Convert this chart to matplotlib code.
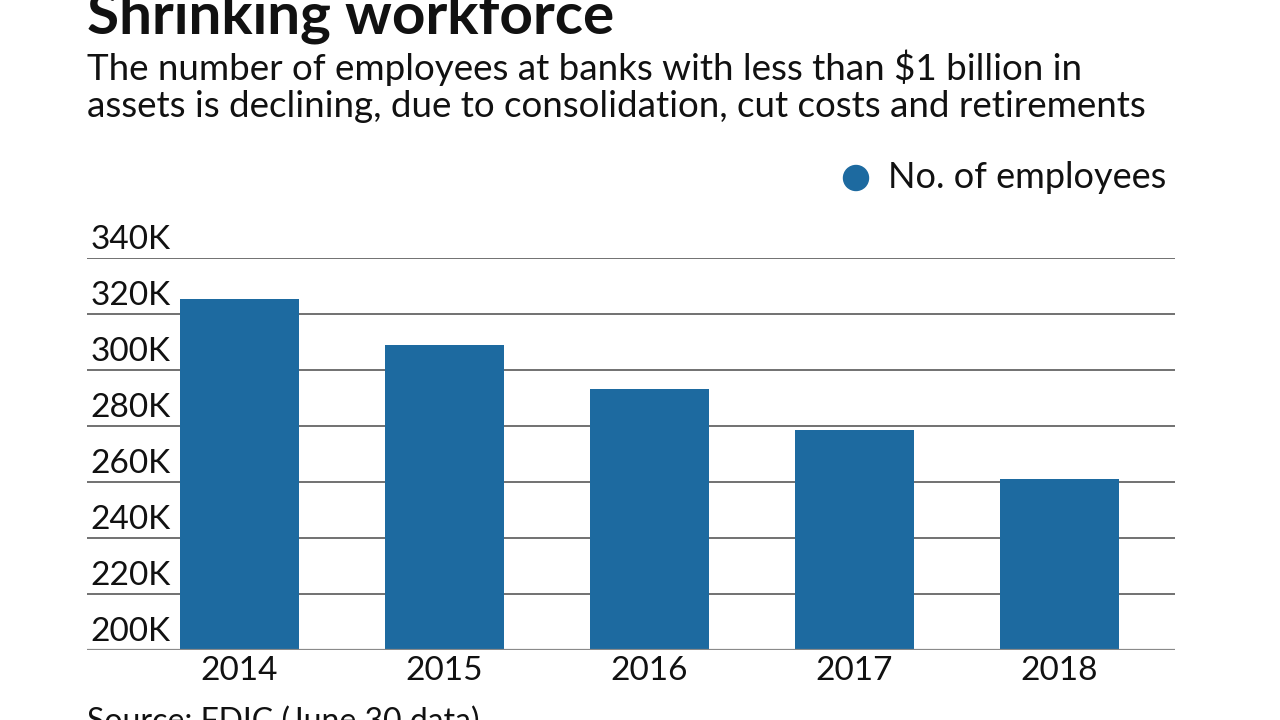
import matplotlib.pyplot as plt
import matplotlib.patches as mpatches
import matplotlib.transforms as mtransforms
import numpy as np

years     = ["2014", "2015", "2016", "2017", "2018"]
employees = [325400, 308900, 293200, 278600, 261100]
y_ticks   = [200000, 220000, 240000, 260000, 280000, 300000, 320000, 340000]
y_labels  = ["200K", "220K", "240K", "260K", "280K", "300K", "320K", "340K"]

BAR_COLOR  = "#1d6aa0"
GRID_COLOR = "#4a4a4a"
TEXT_COLOR = "#111111"
FONT       = ["Lato", "DejaVu Sans"]

plt.rcParams["font.family"] = FONT

fig = plt.figure(figsize=(12.8, 7.2), dpi=100)
ax = fig.add_axes([87 / 1280, 1 - 650 / 720, 1088 / 1280, 392 / 720])

x = np.arange(len(years))
ax.bar(x, employees, width=0.58, color=BAR_COLOR, zorder=2)

ax.set_ylim(y_ticks[0], y_ticks[-1])
ax.set_xlim(-0.744, len(years) - 1 + 0.563)

for v in y_ticks[1:]:
    ax.axhline(v, color=GRID_COLOR, lw=1.1, zorder=1)
ax.axhline(y_ticks[0], color="#8a8a8a", lw=1.6, zorder=3)

# value labels sit just above each gridline, left aligned
trans = mtransforms.blended_transform_factory(ax.transAxes, ax.transData)
for v, lab in zip(y_ticks, y_labels):
    ax.annotate(lab, xy=(0.003, v), xycoords=trans,
                xytext=(0, 6.5), textcoords="offset points",
                ha="left", va="baseline", fontsize=24, color=TEXT_COLOR)

ax.set_xticks(x)
ax.set_xticklabels(years, fontsize=24, color=TEXT_COLOR)
ax.tick_params(axis="x", length=0, pad=4)
ax.set_yticks([])
for s in ax.spines.values():
    s.set_visible(False)

# title / subtitle
fig.text(87 / 1280, 1 - 33 / 720, "Shrinking workforce", fontsize=42,
         fontweight="bold", ha="left", va="baseline", color=TEXT_COLOR)
fig.text(87 / 1280, 1 - 80 / 720,
         "The number of employees at banks with less than $1 billion in",
         fontsize=26.5, ha="left", va="baseline", color=TEXT_COLOR)
fig.text(87 / 1280, 1 - 117 / 720,
         "assets is declining, due to consolidation, cut costs and retirements",
         fontsize=26.5, ha="left", va="baseline", color=TEXT_COLOR)

# legend
fig.add_artist(mpatches.Ellipse((856 / 1280, 1 - 178 / 720), 25 / 1280, 25 / 720,
                                transform=fig.transFigure, color=BAR_COLOR))
fig.text(888 / 1280, 1 - 178 / 720, "No. of employees", fontsize=26,
         ha="left", va="center", color=TEXT_COLOR)

# source
fig.text(87 / 1280, 1 - 731 / 720, "Source: FDIC (June 30 data)",
         fontsize=23, ha="left", va="baseline", color=TEXT_COLOR)

fig.savefig("out.png", dpi=100)
